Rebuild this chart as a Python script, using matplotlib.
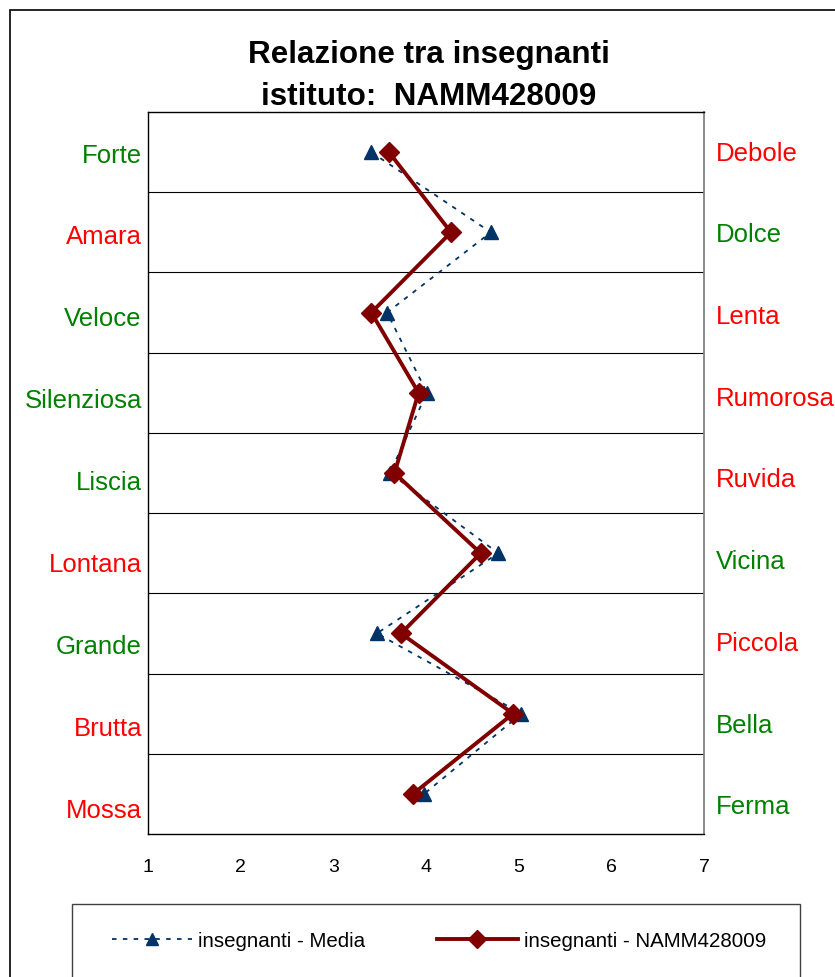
import numpy as np
import matplotlib
matplotlib.use("Agg")
import matplotlib.pyplot as plt
from matplotlib.patches import Rectangle

plt.rcParams['font.family'] = ['Liberation Sans', 'DejaVu Sans']

# ── data ──────────────────────────────────────────────────────────────────
left_labels  = ["Forte", "Amara", "Veloce", "Silenziosa", "Liscia",
                "Lontana", "Grande", "Brutta", "Mossa"]
left_colors  = ["g", "r", "g", "g", "g", "r", "g", "r", "r"]
right_labels = ["Debole", "Dolce", "Lenta", "Rumorosa", "Ruvida",
                "Vicina", "Piccola", "Bella", "Ferma"]
right_colors = ["r", "g", "r", "r", "r", "g", "r", "g", "g"]

media = [3.41, 4.70, 3.58, 4.01, 3.61, 4.78, 3.47, 5.03, 3.98]
namm  = [3.60, 4.27, 3.41, 3.92, 3.66, 4.59, 3.73, 4.94, 3.86]

x_ticks = [1, 2, 3, 4, 5, 6, 7]

COL = {"g": "#008000", "r": "#FF0000"}
C_MEDIA = "#003366"
C_NAMM  = "#800000"

# ── figure ────────────────────────────────────────────────────────────────
W, H = 835, 978
fig = plt.figure(figsize=(W / 100, H / 100), dpi=100)
fig.patch.set_facecolor("white")

# outer chart border
fig.patches.append(Rectangle((10 / W, -0.05), 1.1, 1 - 11 / H + 0.05,
                             transform=fig.transFigure, fill=False,
                             edgecolor="black", lw=1.2))

ax = fig.add_axes([148 / W, 1 - 835 / H, 556 / W, 722 / H])
ypos = np.arange(len(left_labels))

ax.plot(media, ypos, color=C_MEDIA, lw=1.3, ls=(0, (2.5, 3.5)),
        marker="^", ms=9.5, mfc=C_MEDIA, mec=C_MEDIA, zorder=3,
        label="insegnanti - Media")
ax.plot(namm, ypos, color=C_NAMM, lw=2.8, marker="D", ms=10.5,
        mfc=C_NAMM, mec=C_NAMM, zorder=4,
        label="insegnanti - NAMM428009")

ax.set_xlim(1, 7)
ax.set_ylim(len(left_labels) - 0.5, -0.5)
for yy in np.arange(0.5, len(left_labels) - 0.5):
    ax.axhline(yy, color="black", lw=0.8, zorder=1)

ax.set_xticks(x_ticks)
ax.set_xticklabels([str(t) for t in x_ticks])
ax.set_yticks([])
ax.tick_params(axis="x", length=0, pad=17, labelsize=14)
for side in ("left", "top", "bottom"):
    ax.spines[side].set_color("black")
    ax.spines[side].set_linewidth(1.0)
ax.spines["right"].set_color("#808080")
ax.spines["right"].set_linewidth(1.3)

# side labels
ytr = ax.get_yaxis_transform()
for i, (lab, c) in enumerate(zip(left_labels, left_colors)):
    ax.text(-0.011, i * 1.021 + 0.03, lab, transform=ytr, ha="right",
            va="center", color=COL[c], fontsize=18.5)
for i, (lab, c) in enumerate(zip(right_labels, right_colors)):
    ax.text(1.0216, i * 1.019 + 0.005, lab, transform=ytr, ha="left",
            va="center", color=COL[c], fontsize=18.5)

# title
fig.text(429 / W, 1 - 55 / H, "Relazione tra insegnanti", ha="center",
         va="center", fontsize=22.6, fontweight="bold")
fig.text(429 / W, 1 - 97 / H, "istituto:  NAMM428009", ha="center",
         va="center", fontsize=22.6, fontweight="bold")

# legend box
fig.patches.append(Rectangle((72 / W, -0.05), 728 / W, 1 - 905 / H + 0.05,
                             transform=fig.transFigure, fill=False,
                             edgecolor="#404040", lw=1.0))
handles, labels = ax.get_legend_handles_labels()
fig.legend(handles, labels, loc="center", bbox_to_anchor=(439 / W, 1 - 942 / H),
           ncol=2, frameon=False, fontsize=14.8, handlelength=3.9,
           handletextpad=0.3, columnspacing=3.5, markerscale=0.85)

fig.savefig("out.png", dpi=100, facecolor=fig.get_facecolor())
